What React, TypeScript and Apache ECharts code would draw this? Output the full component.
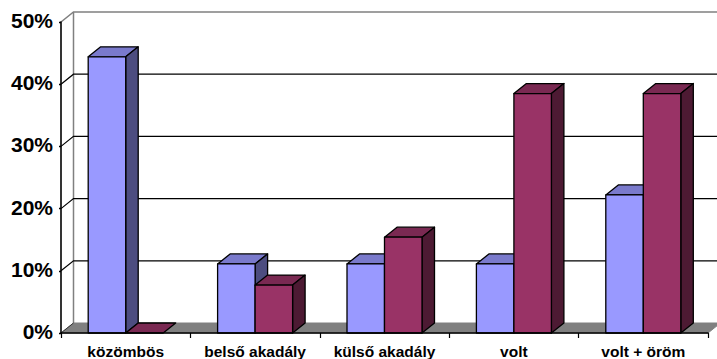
import React, { useEffect, useRef } from "react";
import * as echarts from "echarts";

const categories = ["közömbös", "belső akadály", "külső akadály", "volt", "volt + öröm"];
const firstValues = [44.4, 11.1, 11.1, 11.1, 22.2];
const secondValues = [0, 7.7, 15.4, 38.5, 38.5];
const tickValues = [0, 10, 20, 30, 40, 50];

const DEPTH_X = 12.5;
const DEPTH_Y = -10;
const BAR_RATIO = 37.5 / 129.4;
const FONT = '"Liberation Sans", Arial, sans-serif';

const firstShades = { front: "#9999FF", top: "#7A7ACC", side: "#4D4D80" };
const secondShades = { front: "#993366", top: "#7A2952", side: "#4D1A33" };

// One 3D column: front face, top face and right side, offset from the band centre.
function columnSeries(name: string, values: number[], shades: typeof firstShades, side: -1 | 1) {
  return {
    name,
    type: "custom",
    coordinateSystem: "cartesian2d",
    z: 5,
    clip: false,
    data: values.map((v, i) => [i, v]),
    renderItem: (_p: any, api: any) => {
      const base = api.coord([api.value(0), 0]);
      const tip = api.coord([api.value(0), api.value(1)]);
      const w = api.size([1, 0])[0] * BAR_RATIO;
      const x0 = side < 0 ? base[0] - w : base[0];
      const x1 = x0 + w;
      const y0 = base[1];
      const y1 = tip[1];
      const line = { stroke: "#000", lineWidth: 1.3, lineJoin: "round" };
      const poly = (points: number[][], fill: string) => ({
        type: "polygon",
        shape: { points },
        style: { fill, ...line },
      });
      const faces: any[] = [
        poly(
          [[x0, y1], [x1, y1], [x1 + DEPTH_X, y1 + DEPTH_Y], [x0 + DEPTH_X, y1 + DEPTH_Y]],
          shades.top,
        ),
      ];
      if (y0 - y1 > 0.5) {
        faces.push(
          poly(
            [[x1, y1], [x1 + DEPTH_X, y1 + DEPTH_Y], [x1 + DEPTH_X, y0 + DEPTH_Y], [x1, y0]],
            shades.side,
          ),
          poly([[x0, y0], [x1, y0], [x1, y1], [x0, y1]], shades.front),
        );
      }
      return { type: "group", children: faces };
    },
  };
}

// Back wall, floor and the receding gridlines behind the columns.
const wallSeries = {
  name: "wall",
  type: "custom",
  coordinateSystem: "cartesian2d",
  z: 1,
  clip: false,
  silent: true,
  data: tickValues.map((v) => [0, v]),
  renderItem: (params: any, api: any) => {
    const { x, width } = params.coordSys;
    const y = api.coord([0, api.value(1)])[1];
    const right = x + width;
    const v = api.value(1);
    if (v === 0) {
      const top = api.coord([0, 50])[1];
      return {
        type: "group",
        children: [
          {
            type: "polygon",
            shape: {
              points: [[x, y], [x + DEPTH_X, y + DEPTH_Y], [right + DEPTH_X, y + DEPTH_Y], [right, y]],
            },
            style: { fill: "#808080", stroke: "#808080", lineWidth: 1 },
          },
          {
            type: "line",
            shape: { x1: x + DEPTH_X, y1: y + DEPTH_Y, x2: x + DEPTH_X, y2: top + DEPTH_Y },
            style: { stroke: "#808080", lineWidth: 1.5 },
          },
          {
            type: "line",
            shape: { x1: x, y1: y, x2: x + DEPTH_X, y2: y + DEPTH_Y },
            style: { stroke: "#333", lineWidth: 1 },
          },
        ],
      };
    }
    return {
      type: "polyline",
      shape: { points: [[x, y], [x + DEPTH_X, y + DEPTH_Y], [right + DEPTH_X, y + DEPTH_Y]] },
      style: { fill: "none", stroke: v === 50 ? "#808080" : "#000", lineWidth: v === 50 ? 1.6 : 1.2 },
    };
  },
};

export default function App() {
  const ref = useRef<HTMLDivElement>(null);
  useEffect(() => {
    const chart = echarts.init(ref.current!, undefined, { renderer: "svg" });
    chart.setOption({
      animation: false,
      backgroundColor: "#fff",
      grid: { left: 61, right: 9, top: 22, bottom: 26 },
      xAxis: {
        type: "category",
        data: categories,
        z: 10,
        axisLine: { lineStyle: { color: "#000", width: 1.6 } },
        axisTick: { show: true, alignWithLabel: false, length: 5, lineStyle: { color: "#000", width: 1.2 } },
        axisLabel: { color: "#000", fontFamily: FONT, fontWeight: "bold", fontSize: 15.5, margin: 10, interval: 0 },
      },
      yAxis: {
        type: "value",
        min: 0,
        max: 50,
        interval: 10,
        z: 10,
        splitLine: { show: false },
        axisLine: { show: true, lineStyle: { color: "#000", width: 1.6 } },
        axisTick: { show: true, length: 2, lineStyle: { color: "#000", width: 1.4 } },
        axisLabel: {
          color: "#000",
          fontFamily: FONT,
          fontWeight: "bold",
          fontSize: 21,
          margin: 8,
          verticalAlign: "bottom",
          lineHeight: 3,
          formatter: "{value}%",
        },
      },
      series: [
        wallSeries,
        columnSeries("first", firstValues, firstShades, -1),
        columnSeries("second", secondValues, secondShades, 1),
      ],
    });
    return () => chart.dispose();
  }, []);
  return <div ref={ref} style={{ position: "absolute", left: 0, top: 0, width: 717, height: 359 }} />;
}
